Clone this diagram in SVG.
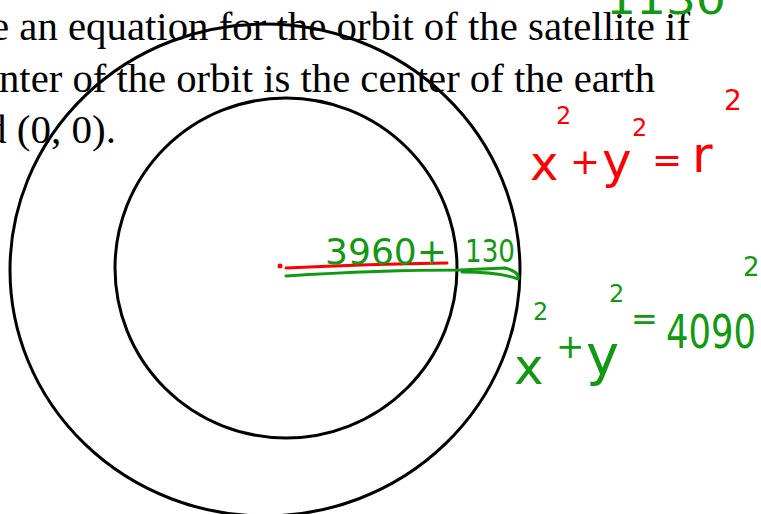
<svg xmlns="http://www.w3.org/2000/svg" width="761" height="514" viewBox="0 0 761 514">
<style>
.print{font-family:"Liberation Serif","Times New Roman",serif;font-size:40px;fill:#000}
.orbit{fill:none;stroke:#000;stroke-width:3}
.g{font-family:"DejaVu Sans","Noto Sans",sans-serif;fill:#119911}
.r{font-family:"DejaVu Sans","Noto Sans",sans-serif;fill:#ff0000}
</style>
<rect width="761" height="514" fill="#fff"/>
<g id="question">
<text class="print" x="-9" y="40" textLength="699" lengthAdjust="spacingAndGlyphs">e an equation for the orbit of the satellite if</text>
<text class="print" x="-1" y="92" textLength="656" lengthAdjust="spacingAndGlyphs">nter of the orbit is the center of the earth</text>
<text class="print" x="-14" y="143" textLength="130" lengthAdjust="spacingAndGlyphs">d (0, 0).</text>
</g>
<g id="orbit">
<ellipse class="orbit" cx="265" cy="270" rx="255" ry="246"/>
</g>
<g id="earth">
<ellipse class="orbit" cx="286" cy="268" rx="171" ry="170"/>
</g>
<g id="radius">
<circle cx="280" cy="266" r="2.5" fill="#ff0000"/>
<path d="M286 268 Q370 264 447 263" fill="none" stroke="#ff0000" stroke-width="3" stroke-linecap="round"/>
<path d="M286 276 Q380 270 460 270 L505 268 Q520 272 518 279 Q500 272 462 272" fill="none" stroke="#119911" stroke-width="3" stroke-linecap="round" stroke-linejoin="round"/>
<text class="g" x="325" y="264" font-size="36" textLength="122" lengthAdjust="spacingAndGlyphs">3960+</text>
<text class="g" x="465" y="262" font-size="32" textLength="50" lengthAdjust="spacingAndGlyphs">130</text>
</g>
<g id="top-note">
<text class="g" x="606" y="14" font-size="40" textLength="120" lengthAdjust="spacingAndGlyphs">1130</text>
</g>
<g id="eq-red">
<text class="r" x="530" y="180" font-size="48">x</text>
<text class="r" x="556" y="124" font-size="24">2</text>
<text class="r" x="570" y="174" font-size="36">+</text>
<text class="r" x="602" y="178" font-size="50">y</text>
<text class="r" x="632" y="136" font-size="24">2</text>
<text class="r" x="652" y="172" font-size="36">=</text>
<text class="r" x="692" y="172" font-size="50">r</text>
<text class="r" x="724" y="110" font-size="28">2</text>
</g>
<g id="eq-green">
<text class="g" x="514" y="384" font-size="50">x</text>
<text class="g" x="533" y="320" font-size="24">2</text>
<text class="g" x="556" y="358" font-size="34">+</text>
<text class="g" x="586" y="374" font-size="56">y</text>
<text class="g" x="609" y="302" font-size="24">2</text>
<text class="g" x="631" y="330" font-size="32">=</text>
<text class="g" x="666" y="348" font-size="46" textLength="90" lengthAdjust="spacingAndGlyphs">4090</text>
<text class="g" x="743" y="276" font-size="26">2</text>
</g>
</svg>
